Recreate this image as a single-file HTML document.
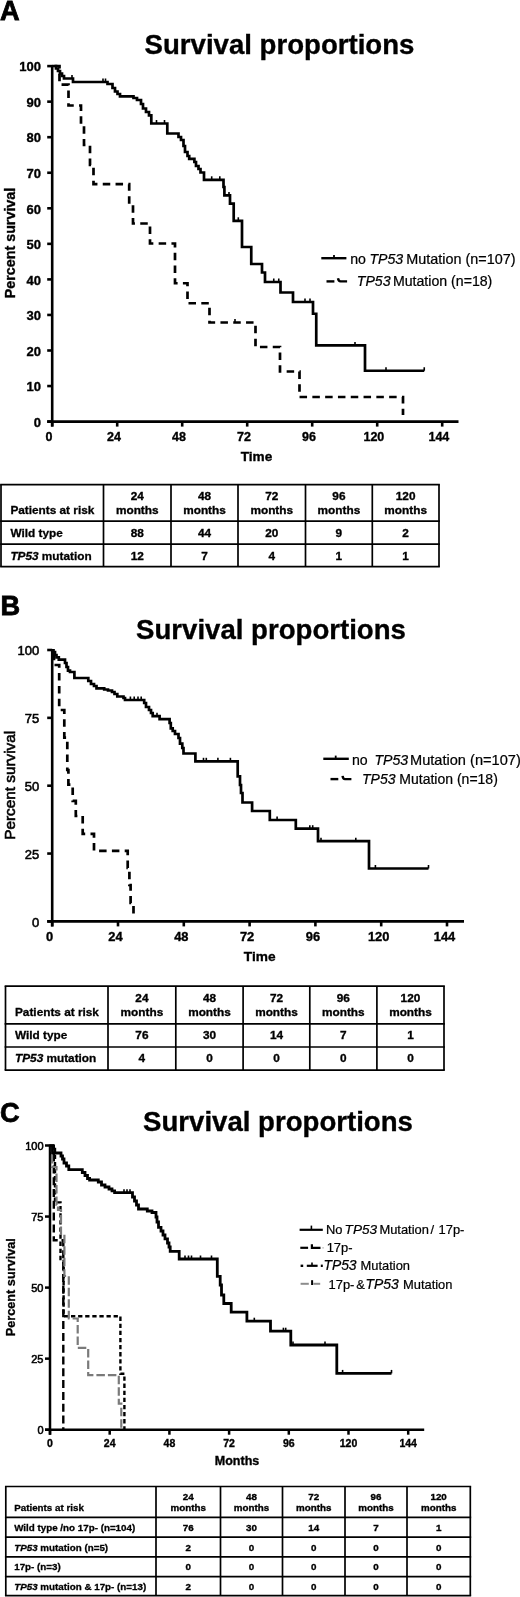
<!DOCTYPE html>
<html><head><meta charset="utf-8"><title>Survival proportions</title>
<style>html,body{margin:0;padding:0;background:#fff;width:520px;height:1597px;overflow:hidden}
svg text{font-family:"Liberation Sans", sans-serif} svg{filter:grayscale(1)}</style></head>
<body>
<svg width="520" height="1597" viewBox="0 0 520 1597" style="display:block;font-family:'Liberation Sans', sans-serif">
<rect width="520" height="1597" fill="#fff"/>
<text x="0" y="19.5" font-size="27.2" font-weight="bold" stroke="#000" stroke-width="0.8"  text-anchor="start" fill="#000" >A</text>
<text x="279.5" y="53.8" font-size="27.6" font-weight="bold" stroke="#000" stroke-width="0.35"  text-anchor="middle" fill="#000" >Survival proportions</text>
<line x1="52.2" y1="65" x2="52.2" y2="426.6" stroke="#000" stroke-width="2.6" />
<line x1="47.2" y1="421.6" x2="458.5" y2="421.6" stroke="#000" stroke-width="2.6" />
<line x1="47.2" y1="421.6" x2="52.2" y2="421.6" stroke="#000" stroke-width="2.6" />
<text x="41" y="426.84000000000003" font-size="13" font-weight="bold" stroke="#000" stroke-width="0.35"  text-anchor="end" fill="#000" >0</text>
<line x1="47.2" y1="386.05" x2="52.2" y2="386.05" stroke="#000" stroke-width="2.6" />
<text x="41" y="391.29" font-size="13" font-weight="bold" stroke="#000" stroke-width="0.35"  text-anchor="end" fill="#000" >10</text>
<line x1="47.2" y1="350.5" x2="52.2" y2="350.5" stroke="#000" stroke-width="2.6" />
<text x="41" y="355.74" font-size="13" font-weight="bold" stroke="#000" stroke-width="0.35"  text-anchor="end" fill="#000" >20</text>
<line x1="47.2" y1="314.95000000000005" x2="52.2" y2="314.95000000000005" stroke="#000" stroke-width="2.6" />
<text x="41" y="320.19000000000005" font-size="13" font-weight="bold" stroke="#000" stroke-width="0.35"  text-anchor="end" fill="#000" >30</text>
<line x1="47.2" y1="279.4" x2="52.2" y2="279.4" stroke="#000" stroke-width="2.6" />
<text x="41" y="284.64" font-size="13" font-weight="bold" stroke="#000" stroke-width="0.35"  text-anchor="end" fill="#000" >40</text>
<line x1="47.2" y1="243.85000000000002" x2="52.2" y2="243.85000000000002" stroke="#000" stroke-width="2.6" />
<text x="41" y="249.09000000000003" font-size="13" font-weight="bold" stroke="#000" stroke-width="0.35"  text-anchor="end" fill="#000" >50</text>
<line x1="47.2" y1="208.3" x2="52.2" y2="208.3" stroke="#000" stroke-width="2.6" />
<text x="41" y="213.54000000000002" font-size="13" font-weight="bold" stroke="#000" stroke-width="0.35"  text-anchor="end" fill="#000" >60</text>
<line x1="47.2" y1="172.75" x2="52.2" y2="172.75" stroke="#000" stroke-width="2.6" />
<text x="41" y="177.99" font-size="13" font-weight="bold" stroke="#000" stroke-width="0.35"  text-anchor="end" fill="#000" >70</text>
<line x1="47.2" y1="137.2" x2="52.2" y2="137.2" stroke="#000" stroke-width="2.6" />
<text x="41" y="142.44" font-size="13" font-weight="bold" stroke="#000" stroke-width="0.35"  text-anchor="end" fill="#000" >80</text>
<line x1="47.2" y1="101.65000000000003" x2="52.2" y2="101.65000000000003" stroke="#000" stroke-width="2.6" />
<text x="41" y="106.89000000000003" font-size="13" font-weight="bold" stroke="#000" stroke-width="0.35"  text-anchor="end" fill="#000" >90</text>
<line x1="47.2" y1="66.10000000000002" x2="52.2" y2="66.10000000000002" stroke="#000" stroke-width="2.6" />
<text x="41" y="71.34000000000002" font-size="13" font-weight="bold" stroke="#000" stroke-width="0.35"  text-anchor="end" fill="#000" >100</text>
<line x1="52.2" y1="421.6" x2="52.2" y2="426.6" stroke="#000" stroke-width="2.6" />
<text x="48.900000000000006" y="440.90000000000003" font-size="12.5" font-weight="bold" stroke="#000" stroke-width="0.35"  text-anchor="middle" fill="#000" >0</text>
<line x1="117.2" y1="421.6" x2="117.2" y2="426.6" stroke="#000" stroke-width="2.6" />
<text x="113.9" y="440.90000000000003" font-size="12.5" font-weight="bold" stroke="#000" stroke-width="0.35"  text-anchor="middle" fill="#000" >24</text>
<line x1="182.2" y1="421.6" x2="182.2" y2="426.6" stroke="#000" stroke-width="2.6" />
<text x="178.89999999999998" y="440.90000000000003" font-size="12.5" font-weight="bold" stroke="#000" stroke-width="0.35"  text-anchor="middle" fill="#000" >48</text>
<line x1="247.2" y1="421.6" x2="247.2" y2="426.6" stroke="#000" stroke-width="2.6" />
<text x="243.89999999999998" y="440.90000000000003" font-size="12.5" font-weight="bold" stroke="#000" stroke-width="0.35"  text-anchor="middle" fill="#000" >72</text>
<line x1="312.2" y1="421.6" x2="312.2" y2="426.6" stroke="#000" stroke-width="2.6" />
<text x="308.9" y="440.90000000000003" font-size="12.5" font-weight="bold" stroke="#000" stroke-width="0.35"  text-anchor="middle" fill="#000" >96</text>
<line x1="377.2" y1="421.6" x2="377.2" y2="426.6" stroke="#000" stroke-width="2.6" />
<text x="373.9" y="440.90000000000003" font-size="12.5" font-weight="bold" stroke="#000" stroke-width="0.35"  text-anchor="middle" fill="#000" >120</text>
<line x1="442.2" y1="421.6" x2="442.2" y2="426.6" stroke="#000" stroke-width="2.6" />
<text x="438.9" y="440.90000000000003" font-size="12.5" font-weight="bold" stroke="#000" stroke-width="0.35"  text-anchor="middle" fill="#000" >144</text>
<text x="256.5" y="460.7" font-size="13.6" font-weight="bold" stroke="#000" stroke-width="0.35"  text-anchor="middle" fill="#000" >Time</text>
<text transform="translate(14.6,243) rotate(-90)" font-size="14.3" font-weight="bold" text-anchor="middle" fill="#000" stroke="#000" stroke-width="0.35">Percent survival</text>
<path d="M52,66 H56 V68.5 H58 V71 H60 V73.5 H62 V76 H64 V78.5 H73 V82 H107.5 V84 H112.5 V88 H115 V91.5 H117.5 V94 H120 V96.3 H133.5 V98 H137 V100 H141 V104 H143 V108.5 H146 V112 H149 V115.4 H151.3 V123.5 H167.3 V133.5 H178.5 V137 H181 V140 H183.5 V146 H185 V152 H187.5 V156 H189.2 V158.8 H194.4 V162 H196 V166 H198.5 V169 H200.5 V172.5 H204 V179.8 H223.5 V187 H224.4 V195.4 H230 V203.7 H233.7 V220.8 H242 V247 H251.25 V264 H262 V272.5 H265 V282 H280.5 V292.5 H293 V302 H313 V313.75 H316.25 V345.4 H365 V370.75 H424.25" fill="none" stroke="#000" stroke-width="2.7"  stroke-linejoin="miter" stroke-linecap="butt" />
<line x1="72" y1="78.5" x2="72" y2="75.0" stroke="#000" stroke-width="1.6" />
<line x1="103" y1="82" x2="103" y2="78.5" stroke="#000" stroke-width="1.6" />
<line x1="105.5" y1="82" x2="105.5" y2="78.5" stroke="#000" stroke-width="1.6" />
<line x1="156.5" y1="123.5" x2="156.5" y2="120.0" stroke="#000" stroke-width="1.6" />
<line x1="164.5" y1="123.5" x2="164.5" y2="120.0" stroke="#000" stroke-width="1.6" />
<line x1="211.7" y1="179.8" x2="211.7" y2="176.3" stroke="#000" stroke-width="1.6" />
<line x1="219.8" y1="179.8" x2="219.8" y2="176.3" stroke="#000" stroke-width="1.6" />
<line x1="229" y1="195.4" x2="229" y2="191.9" stroke="#000" stroke-width="1.6" />
<line x1="238.3" y1="220.8" x2="238.3" y2="217.3" stroke="#000" stroke-width="1.6" />
<line x1="273.75" y1="282" x2="273.75" y2="278.5" stroke="#000" stroke-width="1.6" />
<line x1="278.75" y1="282" x2="278.75" y2="278.5" stroke="#000" stroke-width="1.6" />
<line x1="305" y1="302" x2="305" y2="298.5" stroke="#000" stroke-width="1.6" />
<line x1="310" y1="302" x2="310" y2="298.5" stroke="#000" stroke-width="1.6" />
<line x1="355" y1="345.4" x2="355" y2="341.9" stroke="#000" stroke-width="1.6" />
<line x1="386" y1="370.75" x2="386" y2="367.25" stroke="#000" stroke-width="1.6" />
<line x1="424.25" y1="370.75" x2="424.25" y2="367.25" stroke="#000" stroke-width="1.6" />
<path d="M52,66 H59.5 V84.6 H68.5 V105.5 H81 V125.3 H84 V145 H90 V165 H93.5 V184.2 H129.2 V204.2 H133 V223.5 H150 V243.5 H175 V283.25 H187.5 V303.25 H209.5 V322.5 H255.5 V347 H280 V371.5 H299.5 V397 H403 V415" fill="none" stroke="#000" stroke-width="2.7" stroke-dasharray="7.5 5.3" stroke-linejoin="miter" stroke-linecap="butt" stroke-dashoffset="10.25"/>
<line x1="235" y1="322.5" x2="235" y2="319.0" stroke="#000" stroke-width="1.6" />
<line x1="321.3" y1="258.2" x2="346.4" y2="258.2" stroke="#000" stroke-width="2.4" />
<line x1="334" y1="258.2" x2="334" y2="254.9" stroke="#000" stroke-width="1.8" />
<text x="350.2" y="263.8" font-size="14.15" stroke="#000" stroke-width="0.22"  text-anchor="start" fill="#000" >no<tspan x="369.4" font-style="italic">TP53</tspan><tspan x="406.3" font-size="14.4">Mutation (n=107)</tspan></text>
<line x1="326.5" y1="281.4" x2="334.4" y2="281.4" stroke="#000" stroke-width="2.4" />
<path d="M338,278.3 Q338.5,281.4 340.5,281.4 H347.1" fill="none" stroke="#000" stroke-width="2.4"  stroke-linejoin="miter" stroke-linecap="butt" />
<text x="356.8" y="285.6" font-size="14.15" stroke="#000" stroke-width="0.22"  text-anchor="start" fill="#000" ><tspan font-style="italic">TP53</tspan><tspan x="392.9">Mutation (n=18)</tspan></text>
<line x1="1.0" y1="484.6" x2="1.0" y2="566.7" stroke="#000" stroke-width="1.7" />
<line x1="103.5" y1="484.6" x2="103.5" y2="566.7" stroke="#000" stroke-width="1.7" />
<line x1="171" y1="484.6" x2="171" y2="566.7" stroke="#000" stroke-width="1.7" />
<line x1="238" y1="484.6" x2="238" y2="566.7" stroke="#000" stroke-width="1.7" />
<line x1="305.5" y1="484.6" x2="305.5" y2="566.7" stroke="#000" stroke-width="1.7" />
<line x1="372.3" y1="484.6" x2="372.3" y2="566.7" stroke="#000" stroke-width="1.7" />
<line x1="439.0" y1="484.6" x2="439.0" y2="566.7" stroke="#000" stroke-width="1.7" />
<line x1="0.15000000000000002" y1="484.6" x2="439.85" y2="484.6" stroke="#000" stroke-width="1.7" />
<line x1="0.15000000000000002" y1="521.2" x2="439.85" y2="521.2" stroke="#000" stroke-width="1.7" />
<line x1="0.15000000000000002" y1="544.2" x2="439.85" y2="544.2" stroke="#000" stroke-width="1.7" />
<line x1="0.15000000000000002" y1="566.7" x2="439.85" y2="566.7" stroke="#000" stroke-width="1.7" />
<text x="10.4" y="514.4" font-size="11.8" font-weight="bold" fill="#000" stroke="#000" stroke-width="0.3">Patients at risk</text>
<text x="137.25" y="500" font-size="11.8" font-weight="bold" stroke="#000" stroke-width="0.35"  text-anchor="middle" fill="#000" >24</text>
<text x="137.25" y="514.4" font-size="11.8" font-weight="bold" stroke="#000" stroke-width="0.35"  text-anchor="middle" fill="#000" >months</text>
<text x="204.5" y="500" font-size="11.8" font-weight="bold" stroke="#000" stroke-width="0.35"  text-anchor="middle" fill="#000" >48</text>
<text x="204.5" y="514.4" font-size="11.8" font-weight="bold" stroke="#000" stroke-width="0.35"  text-anchor="middle" fill="#000" >months</text>
<text x="271.75" y="500" font-size="11.8" font-weight="bold" stroke="#000" stroke-width="0.35"  text-anchor="middle" fill="#000" >72</text>
<text x="271.75" y="514.4" font-size="11.8" font-weight="bold" stroke="#000" stroke-width="0.35"  text-anchor="middle" fill="#000" >months</text>
<text x="338.9" y="500" font-size="11.8" font-weight="bold" stroke="#000" stroke-width="0.35"  text-anchor="middle" fill="#000" >96</text>
<text x="338.9" y="514.4" font-size="11.8" font-weight="bold" stroke="#000" stroke-width="0.35"  text-anchor="middle" fill="#000" >months</text>
<text x="405.65" y="500" font-size="11.8" font-weight="bold" stroke="#000" stroke-width="0.35"  text-anchor="middle" fill="#000" >120</text>
<text x="405.65" y="514.4" font-size="11.8" font-weight="bold" stroke="#000" stroke-width="0.35"  text-anchor="middle" fill="#000" >months</text>
<text x="10.4" y="536.8" font-size="11.8" font-weight="bold" fill="#000" stroke="#000" stroke-width="0.3">Wild type</text>
<text x="137.25" y="536.8" font-size="11.8" font-weight="bold" stroke="#000" stroke-width="0.35"  text-anchor="middle" fill="#000" >88</text>
<text x="204.5" y="536.8" font-size="11.8" font-weight="bold" stroke="#000" stroke-width="0.35"  text-anchor="middle" fill="#000" >44</text>
<text x="271.75" y="536.8" font-size="11.8" font-weight="bold" stroke="#000" stroke-width="0.35"  text-anchor="middle" fill="#000" >20</text>
<text x="338.9" y="536.8" font-size="11.8" font-weight="bold" stroke="#000" stroke-width="0.35"  text-anchor="middle" fill="#000" >9</text>
<text x="405.65" y="536.8" font-size="11.8" font-weight="bold" stroke="#000" stroke-width="0.35"  text-anchor="middle" fill="#000" >2</text>
<text x="10.4" y="559.6" font-size="11.8" font-weight="bold" fill="#000" stroke="#000" stroke-width="0.3"><tspan font-style="italic">TP53</tspan> mutation</text>
<text x="137.25" y="559.6" font-size="11.8" font-weight="bold" stroke="#000" stroke-width="0.35"  text-anchor="middle" fill="#000" >12</text>
<text x="204.5" y="559.6" font-size="11.8" font-weight="bold" stroke="#000" stroke-width="0.35"  text-anchor="middle" fill="#000" >7</text>
<text x="271.75" y="559.6" font-size="11.8" font-weight="bold" stroke="#000" stroke-width="0.35"  text-anchor="middle" fill="#000" >4</text>
<text x="338.9" y="559.6" font-size="11.8" font-weight="bold" stroke="#000" stroke-width="0.35"  text-anchor="middle" fill="#000" >1</text>
<text x="405.65" y="559.6" font-size="11.8" font-weight="bold" stroke="#000" stroke-width="0.35"  text-anchor="middle" fill="#000" >1</text>
<text x="0.6" y="615.1" font-size="27.2" font-weight="bold" stroke="#000" stroke-width="0.8"  text-anchor="start" fill="#000" >B</text>
<text x="271" y="638.8" font-size="27.6" font-weight="bold" stroke="#000" stroke-width="0.35"  text-anchor="middle" fill="#000" >Survival proportions</text>
<line x1="52.2" y1="649.3" x2="52.2" y2="926.4" stroke="#000" stroke-width="2.6" />
<line x1="47.2" y1="921.4" x2="464" y2="921.4" stroke="#000" stroke-width="2.6" />
<line x1="47.2" y1="921.4" x2="52.2" y2="921.4" stroke="#000" stroke-width="2.6" />
<text x="39.3" y="926.64" font-size="13" stroke="#000" stroke-width="0.55"  text-anchor="end" fill="#000" >0</text>
<line x1="47.2" y1="853.55" x2="52.2" y2="853.55" stroke="#000" stroke-width="2.6" />
<text x="39.3" y="858.79" font-size="13" stroke="#000" stroke-width="0.55"  text-anchor="end" fill="#000" >25</text>
<line x1="47.2" y1="785.7" x2="52.2" y2="785.7" stroke="#000" stroke-width="2.6" />
<text x="39.3" y="790.94" font-size="13" stroke="#000" stroke-width="0.55"  text-anchor="end" fill="#000" >50</text>
<line x1="47.2" y1="717.8499999999999" x2="52.2" y2="717.8499999999999" stroke="#000" stroke-width="2.6" />
<text x="39.3" y="723.0899999999999" font-size="13" stroke="#000" stroke-width="0.55"  text-anchor="end" fill="#000" >75</text>
<line x1="47.2" y1="650.0" x2="52.2" y2="650.0" stroke="#000" stroke-width="2.6" />
<text x="39.3" y="655.24" font-size="13" stroke="#000" stroke-width="0.55"  text-anchor="end" fill="#000" >100</text>
<line x1="52.2" y1="921.4" x2="52.2" y2="926.4" stroke="#000" stroke-width="2.6" />
<text x="49.7" y="940.6999999999999" font-size="12.9" font-weight="bold" stroke="#000" stroke-width="0.35"  text-anchor="middle" fill="#000" >0</text>
<line x1="118.0" y1="921.4" x2="118.0" y2="926.4" stroke="#000" stroke-width="2.6" />
<text x="115.5" y="940.6999999999999" font-size="12.9" font-weight="bold" stroke="#000" stroke-width="0.35"  text-anchor="middle" fill="#000" >24</text>
<line x1="183.8" y1="921.4" x2="183.8" y2="926.4" stroke="#000" stroke-width="2.6" />
<text x="181.3" y="940.6999999999999" font-size="12.9" font-weight="bold" stroke="#000" stroke-width="0.35"  text-anchor="middle" fill="#000" >48</text>
<line x1="249.60000000000002" y1="921.4" x2="249.60000000000002" y2="926.4" stroke="#000" stroke-width="2.6" />
<text x="247.10000000000002" y="940.6999999999999" font-size="12.9" font-weight="bold" stroke="#000" stroke-width="0.35"  text-anchor="middle" fill="#000" >72</text>
<line x1="315.4" y1="921.4" x2="315.4" y2="926.4" stroke="#000" stroke-width="2.6" />
<text x="312.9" y="940.6999999999999" font-size="12.9" font-weight="bold" stroke="#000" stroke-width="0.35"  text-anchor="middle" fill="#000" >96</text>
<line x1="381.2" y1="921.4" x2="381.2" y2="926.4" stroke="#000" stroke-width="2.6" />
<text x="378.7" y="940.6999999999999" font-size="12.9" font-weight="bold" stroke="#000" stroke-width="0.35"  text-anchor="middle" fill="#000" >120</text>
<line x1="447.0" y1="921.4" x2="447.0" y2="926.4" stroke="#000" stroke-width="2.6" />
<text x="444.5" y="940.6999999999999" font-size="12.9" font-weight="bold" stroke="#000" stroke-width="0.35"  text-anchor="middle" fill="#000" >144</text>
<text x="259.7" y="961" font-size="13.7" font-weight="bold" stroke="#000" stroke-width="0.35"  text-anchor="middle" fill="#000" >Time</text>
<text transform="translate(14.9,785.3) rotate(-90)" font-size="15.3" text-anchor="middle" fill="#000" stroke="#000" stroke-width="0.6">Percent survival</text>
<path d="M52,650.3 H53.5 V652 H55 V655 H56.5 V657.3 H58.8 V659.6 H65 V663 H66.5 V667 H68 V670.6 H70 V672 H74.4 V678 H88.3 V681 H91 V684 H94 V686 H96.5 V688.3 H104.2 V689.5 H108 V690.5 H112 V692 H114.5 V694 H117.3 V696.5 H123.5 V698 H125 V700 H144.2 V703 H146 V707 H149 V710 H151 V713 H152.7 V716.2 H159.6 V719.2 H169.6 V723 H170.8 V728.3 H172.7 V731 H175 V734 H178.5 V738 H180 V743.7 H182.3 V748 H183.5 V753.5 H195.4 V761.3 H237.7 V776.3 H240 V785 H241 V793 H242.5 V802.5 H252.1 V811 H269.8 V820 H295.8 V828.7 H318 V841.2 H369 V868.5 H428.5" fill="none" stroke="#000" stroke-width="2.7"  stroke-linejoin="miter" stroke-linecap="butt" />
<line x1="130.4" y1="700" x2="130.4" y2="696.5" stroke="#000" stroke-width="1.6" />
<line x1="134.2" y1="700" x2="134.2" y2="696.5" stroke="#000" stroke-width="1.6" />
<line x1="138" y1="700" x2="138" y2="696.5" stroke="#000" stroke-width="1.6" />
<line x1="141.2" y1="700" x2="141.2" y2="696.5" stroke="#000" stroke-width="1.6" />
<line x1="157" y1="716.2" x2="157" y2="712.7" stroke="#000" stroke-width="1.6" />
<line x1="203.5" y1="761.3" x2="203.5" y2="757.8" stroke="#000" stroke-width="1.6" />
<line x1="206.3" y1="761.3" x2="206.3" y2="757.8" stroke="#000" stroke-width="1.6" />
<line x1="217.9" y1="761.3" x2="217.9" y2="757.8" stroke="#000" stroke-width="1.6" />
<line x1="230.4" y1="761.3" x2="230.4" y2="757.8" stroke="#000" stroke-width="1.6" />
<line x1="277.1" y1="820" x2="277.1" y2="816.5" stroke="#000" stroke-width="1.6" />
<line x1="309.8" y1="828.7" x2="309.8" y2="825.2" stroke="#000" stroke-width="1.6" />
<line x1="312.7" y1="828.7" x2="312.7" y2="825.2" stroke="#000" stroke-width="1.6" />
<line x1="321" y1="841.2" x2="321" y2="837.7" stroke="#000" stroke-width="1.6" />
<line x1="355.8" y1="841.2" x2="355.8" y2="837.7" stroke="#000" stroke-width="1.6" />
<line x1="375.4" y1="868.5" x2="375.4" y2="865.0" stroke="#000" stroke-width="1.6" />
<line x1="428.5" y1="868.5" x2="428.5" y2="865.0" stroke="#000" stroke-width="1.6" />
<path d="M52,650.3 H54 V665 H59.2 V710 H64.3 V737.7 H67.3 V770 H68.4 V784.6 H72.7 V800.8 H75.8 V816 H82.7 V833.8 H94 V850.8 H127.7 V868 H129.4 V885 H130.6 V903 H133.5 V915" fill="none" stroke="#000" stroke-width="2.7" stroke-dasharray="7.5 5.3" stroke-linejoin="miter" stroke-linecap="butt" stroke-dashoffset="8.4"/>
<line x1="323.3" y1="758.8" x2="348.8" y2="758.8" stroke="#000" stroke-width="2.4" />
<line x1="335.7" y1="758.8" x2="335.7" y2="755.6" stroke="#000" stroke-width="1.8" />
<text x="352" y="764.6" font-size="14.15" stroke="#000" stroke-width="0.22"  text-anchor="start" fill="#000" >no<tspan x="374.4" font-style="italic">TP53</tspan><tspan x="410" font-size="14.6">Mutation (n=107)</tspan></text>
<line x1="330.5" y1="779.1" x2="338.3" y2="779.1" stroke="#000" stroke-width="2.4" />
<path d="M342.6,775.8 Q343,779.1 345,779.1 H351.4" fill="none" stroke="#000" stroke-width="2.4"  stroke-linejoin="miter" stroke-linecap="butt" />
<text x="362" y="784.4" font-size="14" stroke="#000" stroke-width="0.22"  text-anchor="start" fill="#000" ><tspan font-style="italic">TP53</tspan> Mutation (n=18)</text>
<line x1="5.5" y1="986.2" x2="5.5" y2="1070.1" stroke="#000" stroke-width="1.7" />
<line x1="108" y1="986.2" x2="108" y2="1070.1" stroke="#000" stroke-width="1.7" />
<line x1="175.8" y1="986.2" x2="175.8" y2="1070.1" stroke="#000" stroke-width="1.7" />
<line x1="243.1" y1="986.2" x2="243.1" y2="1070.1" stroke="#000" stroke-width="1.7" />
<line x1="309.8" y1="986.2" x2="309.8" y2="1070.1" stroke="#000" stroke-width="1.7" />
<line x1="376.9" y1="986.2" x2="376.9" y2="1070.1" stroke="#000" stroke-width="1.7" />
<line x1="444" y1="986.2" x2="444" y2="1070.1" stroke="#000" stroke-width="1.7" />
<line x1="4.65" y1="986.2" x2="444.85" y2="986.2" stroke="#000" stroke-width="1.7" />
<line x1="4.65" y1="1023.9" x2="444.85" y2="1023.9" stroke="#000" stroke-width="1.7" />
<line x1="4.65" y1="1047" x2="444.85" y2="1047" stroke="#000" stroke-width="1.7" />
<line x1="4.65" y1="1070.1" x2="444.85" y2="1070.1" stroke="#000" stroke-width="1.7" />
<text x="15.0" y="1016.3" font-size="11.8" font-weight="bold" fill="#000" stroke="#000" stroke-width="0.3">Patients at risk</text>
<text x="141.9" y="1002" font-size="11.8" font-weight="bold" stroke="#000" stroke-width="0.35"  text-anchor="middle" fill="#000" >24</text>
<text x="141.9" y="1016.3" font-size="11.8" font-weight="bold" stroke="#000" stroke-width="0.35"  text-anchor="middle" fill="#000" >months</text>
<text x="209.45" y="1002" font-size="11.8" font-weight="bold" stroke="#000" stroke-width="0.35"  text-anchor="middle" fill="#000" >48</text>
<text x="209.45" y="1016.3" font-size="11.8" font-weight="bold" stroke="#000" stroke-width="0.35"  text-anchor="middle" fill="#000" >months</text>
<text x="276.45" y="1002" font-size="11.8" font-weight="bold" stroke="#000" stroke-width="0.35"  text-anchor="middle" fill="#000" >72</text>
<text x="276.45" y="1016.3" font-size="11.8" font-weight="bold" stroke="#000" stroke-width="0.35"  text-anchor="middle" fill="#000" >months</text>
<text x="343.35" y="1002" font-size="11.8" font-weight="bold" stroke="#000" stroke-width="0.35"  text-anchor="middle" fill="#000" >96</text>
<text x="343.35" y="1016.3" font-size="11.8" font-weight="bold" stroke="#000" stroke-width="0.35"  text-anchor="middle" fill="#000" >months</text>
<text x="410.45" y="1002" font-size="11.8" font-weight="bold" stroke="#000" stroke-width="0.35"  text-anchor="middle" fill="#000" >120</text>
<text x="410.45" y="1016.3" font-size="11.8" font-weight="bold" stroke="#000" stroke-width="0.35"  text-anchor="middle" fill="#000" >months</text>
<text x="15.0" y="1039.3" font-size="11.8" font-weight="bold" fill="#000" stroke="#000" stroke-width="0.3">Wild type</text>
<text x="141.9" y="1039.3" font-size="11.8" font-weight="bold" stroke="#000" stroke-width="0.35"  text-anchor="middle" fill="#000" >76</text>
<text x="209.45" y="1039.3" font-size="11.8" font-weight="bold" stroke="#000" stroke-width="0.35"  text-anchor="middle" fill="#000" >30</text>
<text x="276.45" y="1039.3" font-size="11.8" font-weight="bold" stroke="#000" stroke-width="0.35"  text-anchor="middle" fill="#000" >14</text>
<text x="343.35" y="1039.3" font-size="11.8" font-weight="bold" stroke="#000" stroke-width="0.35"  text-anchor="middle" fill="#000" >7</text>
<text x="410.45" y="1039.3" font-size="11.8" font-weight="bold" stroke="#000" stroke-width="0.35"  text-anchor="middle" fill="#000" >1</text>
<text x="15.0" y="1062.2" font-size="11.8" font-weight="bold" fill="#000" stroke="#000" stroke-width="0.3"><tspan font-style="italic">TP53</tspan> mutation</text>
<text x="141.9" y="1062.2" font-size="11.8" font-weight="bold" stroke="#000" stroke-width="0.35"  text-anchor="middle" fill="#000" >4</text>
<text x="209.45" y="1062.2" font-size="11.8" font-weight="bold" stroke="#000" stroke-width="0.35"  text-anchor="middle" fill="#000" >0</text>
<text x="276.45" y="1062.2" font-size="11.8" font-weight="bold" stroke="#000" stroke-width="0.35"  text-anchor="middle" fill="#000" >0</text>
<text x="343.35" y="1062.2" font-size="11.8" font-weight="bold" stroke="#000" stroke-width="0.35"  text-anchor="middle" fill="#000" >0</text>
<text x="410.45" y="1062.2" font-size="11.8" font-weight="bold" stroke="#000" stroke-width="0.35"  text-anchor="middle" fill="#000" >0</text>
<text x="0" y="1122.3" font-size="27.2" font-weight="bold" stroke="#000" stroke-width="0.8"  text-anchor="start" fill="#000" >C</text>
<text x="278" y="1131.3" font-size="27.6" font-weight="bold" stroke="#000" stroke-width="0.35"  text-anchor="middle" fill="#000" >Survival proportions</text>
<line x1="50" y1="1144.6" x2="50" y2="1434.7" stroke="#000" stroke-width="2.5" />
<line x1="45" y1="1429.7" x2="424.2" y2="1429.7" stroke="#000" stroke-width="2.5" />
<line x1="45" y1="1429.7" x2="50" y2="1429.7" stroke="#000" stroke-width="2.5" />
<text x="43.5" y="1434.18" font-size="11" stroke="#000" stroke-width="0.55"  text-anchor="end" fill="#000" >0</text>
<line x1="45" y1="1358.65" x2="50" y2="1358.65" stroke="#000" stroke-width="2.5" />
<text x="43.5" y="1363.13" font-size="11" stroke="#000" stroke-width="0.55"  text-anchor="end" fill="#000" >25</text>
<line x1="45" y1="1287.6000000000001" x2="50" y2="1287.6000000000001" stroke="#000" stroke-width="2.5" />
<text x="43.5" y="1292.0800000000002" font-size="11" stroke="#000" stroke-width="0.55"  text-anchor="end" fill="#000" >50</text>
<line x1="45" y1="1216.55" x2="50" y2="1216.55" stroke="#000" stroke-width="2.5" />
<text x="43.5" y="1221.03" font-size="11" stroke="#000" stroke-width="0.55"  text-anchor="end" fill="#000" >75</text>
<line x1="45" y1="1145.5" x2="50" y2="1145.5" stroke="#000" stroke-width="2.5" />
<text x="43.5" y="1149.98" font-size="11" stroke="#000" stroke-width="0.55"  text-anchor="end" fill="#000" >100</text>
<line x1="50.0" y1="1429.7" x2="50.0" y2="1434.7" stroke="#000" stroke-width="2.5" />
<text x="50.0" y="1447.0" font-size="10.5" font-weight="bold" stroke="#000" stroke-width="0.35"  text-anchor="middle" fill="#000" >0</text>
<line x1="109.7" y1="1429.7" x2="109.7" y2="1434.7" stroke="#000" stroke-width="2.5" />
<text x="109.7" y="1447.0" font-size="10.5" font-weight="bold" stroke="#000" stroke-width="0.35"  text-anchor="middle" fill="#000" >24</text>
<line x1="169.4" y1="1429.7" x2="169.4" y2="1434.7" stroke="#000" stroke-width="2.5" />
<text x="169.4" y="1447.0" font-size="10.5" font-weight="bold" stroke="#000" stroke-width="0.35"  text-anchor="middle" fill="#000" >48</text>
<line x1="229.10000000000002" y1="1429.7" x2="229.10000000000002" y2="1434.7" stroke="#000" stroke-width="2.5" />
<text x="229.10000000000002" y="1447.0" font-size="10.5" font-weight="bold" stroke="#000" stroke-width="0.35"  text-anchor="middle" fill="#000" >72</text>
<line x1="288.8" y1="1429.7" x2="288.8" y2="1434.7" stroke="#000" stroke-width="2.5" />
<text x="288.8" y="1447.0" font-size="10.5" font-weight="bold" stroke="#000" stroke-width="0.35"  text-anchor="middle" fill="#000" >96</text>
<line x1="348.50000000000006" y1="1429.7" x2="348.50000000000006" y2="1434.7" stroke="#000" stroke-width="2.5" />
<text x="348.50000000000006" y="1447.0" font-size="10.5" font-weight="bold" stroke="#000" stroke-width="0.35"  text-anchor="middle" fill="#000" >120</text>
<line x1="408.20000000000005" y1="1429.7" x2="408.20000000000005" y2="1434.7" stroke="#000" stroke-width="2.5" />
<text x="408.20000000000005" y="1447.0" font-size="10.5" font-weight="bold" stroke="#000" stroke-width="0.35"  text-anchor="middle" fill="#000" >144</text>
<text x="237" y="1465.3" font-size="12.5" font-weight="bold" stroke="#000" stroke-width="0.35"  text-anchor="middle" fill="#000" >Months</text>
<text transform="translate(15.3,1287.2) rotate(-90)" font-size="12.7" font-weight="bold" text-anchor="middle" fill="#000" stroke="#000" stroke-width="0.3">Percent survival</text>
<path d="M50,1145.6 H53.8 V1240.3 H63.3 V1429" fill="none" stroke="#000" stroke-width="2.4" stroke-dasharray="8 3.8" stroke-linejoin="miter" stroke-linecap="butt" />
<path d="M50,1145.6 H55 V1202.4 H60.5 V1259 H63.6 V1316.3 H120.4 V1373.7 H124.4 V1429" fill="none" stroke="#000" stroke-width="2.4" stroke-dasharray="4.3 2.8" stroke-linejoin="miter" stroke-linecap="butt" />
<path d="M50,1145.6 H52 V1167 H56.5 V1205 H58 V1210 H61 V1234 H64.4 V1276 H68.8 V1318.5 H77.7 V1347.8 H88.2 V1375.2 H118.8 V1403.7 H121.3 V1429" fill="none" stroke="#7a7a7a" stroke-width="2.2" stroke-dasharray="8.5 3" stroke-linejoin="miter" stroke-linecap="butt" />
<path d="M50,1145.6 H52.5 V1153 H61 V1156 H62.5 V1159 H64 V1163 H66.5 V1166 H68.8 V1169.6 H82.3 V1172.5 H85 V1175.5 H87.5 V1178.5 H89.6 V1180 H98.3 V1182 H101.5 V1185 H105 V1187 H109 V1189 H112 V1190.8 H114.6 V1192.7 H132.5 V1197 H134.5 V1201 H136.5 V1205 H138.5 V1209 H147.3 V1211 H152 V1212.5 H156 V1217 H157 V1222 H158.5 V1227.3 H161 V1231 H163 V1235 H165 V1238.8 H167.5 V1243 H169 V1247 H170.2 V1251.3 H179.2 V1259 H217.3 V1276.3 H220.2 V1285 H221.5 V1295 H223.8 V1303.5 H231.2 V1312.2 H246.9 V1321.2 H270.5 V1331.2 H290.8 V1345 H336.8 V1373.4 H391.5" fill="none" stroke="#000" stroke-width="2.8"  stroke-linejoin="miter" stroke-linecap="butt" />
<line x1="124" y1="1192.7" x2="124" y2="1189.2" stroke="#000" stroke-width="1.6" />
<line x1="127" y1="1192.7" x2="127" y2="1189.2" stroke="#000" stroke-width="1.6" />
<line x1="130" y1="1192.7" x2="130" y2="1189.2" stroke="#000" stroke-width="1.6" />
<line x1="185" y1="1259" x2="185" y2="1255.5" stroke="#000" stroke-width="1.6" />
<line x1="188.5" y1="1259" x2="188.5" y2="1255.5" stroke="#000" stroke-width="1.6" />
<line x1="191.5" y1="1259" x2="191.5" y2="1255.5" stroke="#000" stroke-width="1.6" />
<line x1="200.5" y1="1259" x2="200.5" y2="1255.5" stroke="#000" stroke-width="1.6" />
<line x1="211.5" y1="1259" x2="211.5" y2="1255.5" stroke="#000" stroke-width="1.6" />
<line x1="254.3" y1="1321.2" x2="254.3" y2="1317.7" stroke="#000" stroke-width="1.6" />
<line x1="283.4" y1="1331.2" x2="283.4" y2="1327.7" stroke="#000" stroke-width="1.6" />
<line x1="285.7" y1="1331.2" x2="285.7" y2="1327.7" stroke="#000" stroke-width="1.6" />
<line x1="293" y1="1345" x2="293" y2="1341.5" stroke="#000" stroke-width="1.6" />
<line x1="325" y1="1345" x2="325" y2="1341.5" stroke="#000" stroke-width="1.6" />
<line x1="342.6" y1="1373.4" x2="342.6" y2="1369.9" stroke="#000" stroke-width="1.6" />
<line x1="391.5" y1="1373.4" x2="391.5" y2="1369.9" stroke="#000" stroke-width="1.6" />
<line x1="299.6" y1="1229.8" x2="322.8" y2="1229.8" stroke="#000" stroke-width="2.2" />
<line x1="311.4" y1="1229.8" x2="311.4" y2="1225.6" stroke="#000" stroke-width="1.6" />
<text x="325.9" y="1233.5" font-size="12.9" stroke="#000" stroke-width="0.22"  text-anchor="start" fill="#000" >No<tspan x="344.6" font-style="italic" font-size="13.6">TP53</tspan><tspan x="379.4">Mutation</tspan><tspan x="430.6">/</tspan><tspan x="438.6">17p-</tspan></text>
<line x1="300.3" y1="1247.8" x2="308.1" y2="1247.8" stroke="#000" stroke-width="2.2" />
<path d="M311.9,1244.2 V1247.8 H320.5" fill="none" stroke="#000" stroke-width="2.2"  stroke-linejoin="miter" stroke-linecap="butt" />
<line x1="322.5" y1="1247.8" x2="323.6" y2="1247.8" stroke="#999" stroke-width="1.2" />
<text x="326.7" y="1252.2" font-size="12.9" stroke="#000" stroke-width="0.22"  text-anchor="start" fill="#000" >17p-</text>
<line x1="300.6" y1="1265.8" x2="303.2" y2="1265.8" stroke="#000" stroke-width="2.4" />
<line x1="306.8" y1="1265.8" x2="317.6" y2="1265.8" stroke="#000" stroke-width="2.2" />
<line x1="312" y1="1265.8" x2="312" y2="1262.5" stroke="#000" stroke-width="1.6" />
<line x1="320.8" y1="1265.8" x2="322.8" y2="1265.8" stroke="#000" stroke-width="2.4" />
<text x="323.4" y="1270.4" font-size="12.9" stroke="#000" stroke-width="0.22"  text-anchor="start" fill="#000" ><tspan font-style="italic" font-size="13.9">TP53</tspan><tspan x="360.6">Mutation</tspan></text>
<line x1="300.6" y1="1283.8" x2="308.8" y2="1283.8" stroke="#8c8c8c" stroke-width="2.0" />
<line x1="312.1" y1="1280.2" x2="312.1" y2="1285" stroke="#000" stroke-width="2.0" />
<line x1="313.3" y1="1283.8" x2="320.2" y2="1283.8" stroke="#8c8c8c" stroke-width="2.0" />
<text x="328.6" y="1288.6" font-size="12.9" stroke="#000" stroke-width="0.22"  text-anchor="start" fill="#000" >17p-<tspan x="356.2">&amp;</tspan><tspan x="365.6" font-style="italic" font-size="13.9">TP53</tspan><tspan x="403">Mutation</tspan></text>
<line x1="5.8" y1="1486.5" x2="5.8" y2="1595.7" stroke="#000" stroke-width="1.7" />
<line x1="156" y1="1486.5" x2="156" y2="1595.7" stroke="#000" stroke-width="1.7" />
<line x1="220.5" y1="1486.5" x2="220.5" y2="1595.7" stroke="#000" stroke-width="1.7" />
<line x1="282.5" y1="1486.5" x2="282.5" y2="1595.7" stroke="#000" stroke-width="1.7" />
<line x1="345" y1="1486.5" x2="345" y2="1595.7" stroke="#000" stroke-width="1.7" />
<line x1="407" y1="1486.5" x2="407" y2="1595.7" stroke="#000" stroke-width="1.7" />
<line x1="470.3" y1="1486.5" x2="470.3" y2="1595.7" stroke="#000" stroke-width="1.7" />
<line x1="4.95" y1="1486.5" x2="471.15000000000003" y2="1486.5" stroke="#000" stroke-width="1.7" />
<line x1="4.95" y1="1517.4" x2="471.15000000000003" y2="1517.4" stroke="#000" stroke-width="1.7" />
<line x1="4.95" y1="1537.2" x2="471.15000000000003" y2="1537.2" stroke="#000" stroke-width="1.7" />
<line x1="4.95" y1="1556.8" x2="471.15000000000003" y2="1556.8" stroke="#000" stroke-width="1.7" />
<line x1="4.95" y1="1576.6" x2="471.15000000000003" y2="1576.6" stroke="#000" stroke-width="1.7" />
<line x1="4.95" y1="1595.7" x2="471.15000000000003" y2="1595.7" stroke="#000" stroke-width="1.7" />
<text x="14.2" y="1511.3" font-size="9.8" font-weight="bold" fill="#000" stroke="#000" stroke-width="0.3">Patients at risk</text>
<text x="188.25" y="1499.7" font-size="9.8" font-weight="bold" stroke="#000" stroke-width="0.35"  text-anchor="middle" fill="#000" >24</text>
<text x="188.25" y="1511.3" font-size="9.8" font-weight="bold" stroke="#000" stroke-width="0.35"  text-anchor="middle" fill="#000" >months</text>
<text x="251.5" y="1499.7" font-size="9.8" font-weight="bold" stroke="#000" stroke-width="0.35"  text-anchor="middle" fill="#000" >48</text>
<text x="251.5" y="1511.3" font-size="9.8" font-weight="bold" stroke="#000" stroke-width="0.35"  text-anchor="middle" fill="#000" >months</text>
<text x="313.75" y="1499.7" font-size="9.8" font-weight="bold" stroke="#000" stroke-width="0.35"  text-anchor="middle" fill="#000" >72</text>
<text x="313.75" y="1511.3" font-size="9.8" font-weight="bold" stroke="#000" stroke-width="0.35"  text-anchor="middle" fill="#000" >months</text>
<text x="376.0" y="1499.7" font-size="9.8" font-weight="bold" stroke="#000" stroke-width="0.35"  text-anchor="middle" fill="#000" >96</text>
<text x="376.0" y="1511.3" font-size="9.8" font-weight="bold" stroke="#000" stroke-width="0.35"  text-anchor="middle" fill="#000" >months</text>
<text x="438.65" y="1499.7" font-size="9.8" font-weight="bold" stroke="#000" stroke-width="0.35"  text-anchor="middle" fill="#000" >120</text>
<text x="438.65" y="1511.3" font-size="9.8" font-weight="bold" stroke="#000" stroke-width="0.35"  text-anchor="middle" fill="#000" >months</text>
<text x="14.2" y="1530.8" font-size="9.8" font-weight="bold" fill="#000" stroke="#000" stroke-width="0.3">Wild type /no 17p- (n=104)</text>
<text x="188.25" y="1530.8" font-size="9.8" font-weight="bold" stroke="#000" stroke-width="0.35"  text-anchor="middle" fill="#000" >76</text>
<text x="251.5" y="1530.8" font-size="9.8" font-weight="bold" stroke="#000" stroke-width="0.35"  text-anchor="middle" fill="#000" >30</text>
<text x="313.75" y="1530.8" font-size="9.8" font-weight="bold" stroke="#000" stroke-width="0.35"  text-anchor="middle" fill="#000" >14</text>
<text x="376.0" y="1530.8" font-size="9.8" font-weight="bold" stroke="#000" stroke-width="0.35"  text-anchor="middle" fill="#000" >7</text>
<text x="438.65" y="1530.8" font-size="9.8" font-weight="bold" stroke="#000" stroke-width="0.35"  text-anchor="middle" fill="#000" >1</text>
<text x="14.2" y="1550.8" font-size="9.8" font-weight="bold" fill="#000" stroke="#000" stroke-width="0.3"><tspan font-style="italic">TP53</tspan> mutation (n=5)</text>
<text x="188.25" y="1550.8" font-size="9.8" font-weight="bold" stroke="#000" stroke-width="0.35"  text-anchor="middle" fill="#000" >2</text>
<text x="251.5" y="1550.8" font-size="9.8" font-weight="bold" stroke="#000" stroke-width="0.35"  text-anchor="middle" fill="#000" >0</text>
<text x="313.75" y="1550.8" font-size="9.8" font-weight="bold" stroke="#000" stroke-width="0.35"  text-anchor="middle" fill="#000" >0</text>
<text x="376.0" y="1550.8" font-size="9.8" font-weight="bold" stroke="#000" stroke-width="0.35"  text-anchor="middle" fill="#000" >0</text>
<text x="438.65" y="1550.8" font-size="9.8" font-weight="bold" stroke="#000" stroke-width="0.35"  text-anchor="middle" fill="#000" >0</text>
<text x="14.2" y="1570.2" font-size="9.8" font-weight="bold" fill="#000" stroke="#000" stroke-width="0.3">17p- (n=3)</text>
<text x="188.25" y="1570.2" font-size="9.8" font-weight="bold" stroke="#000" stroke-width="0.35"  text-anchor="middle" fill="#000" >0</text>
<text x="251.5" y="1570.2" font-size="9.8" font-weight="bold" stroke="#000" stroke-width="0.35"  text-anchor="middle" fill="#000" >0</text>
<text x="313.75" y="1570.2" font-size="9.8" font-weight="bold" stroke="#000" stroke-width="0.35"  text-anchor="middle" fill="#000" >0</text>
<text x="376.0" y="1570.2" font-size="9.8" font-weight="bold" stroke="#000" stroke-width="0.35"  text-anchor="middle" fill="#000" >0</text>
<text x="438.65" y="1570.2" font-size="9.8" font-weight="bold" stroke="#000" stroke-width="0.35"  text-anchor="middle" fill="#000" >0</text>
<text x="14.2" y="1590" font-size="9.8" font-weight="bold" fill="#000" stroke="#000" stroke-width="0.3"><tspan font-style="italic">TP53</tspan> mutation &amp; 17p- (n=13)</text>
<text x="188.25" y="1590" font-size="9.8" font-weight="bold" stroke="#000" stroke-width="0.35"  text-anchor="middle" fill="#000" >2</text>
<text x="251.5" y="1590" font-size="9.8" font-weight="bold" stroke="#000" stroke-width="0.35"  text-anchor="middle" fill="#000" >0</text>
<text x="313.75" y="1590" font-size="9.8" font-weight="bold" stroke="#000" stroke-width="0.35"  text-anchor="middle" fill="#000" >0</text>
<text x="376.0" y="1590" font-size="9.8" font-weight="bold" stroke="#000" stroke-width="0.35"  text-anchor="middle" fill="#000" >0</text>
<text x="438.65" y="1590" font-size="9.8" font-weight="bold" stroke="#000" stroke-width="0.35"  text-anchor="middle" fill="#000" >0</text>
</svg>
</body></html>
